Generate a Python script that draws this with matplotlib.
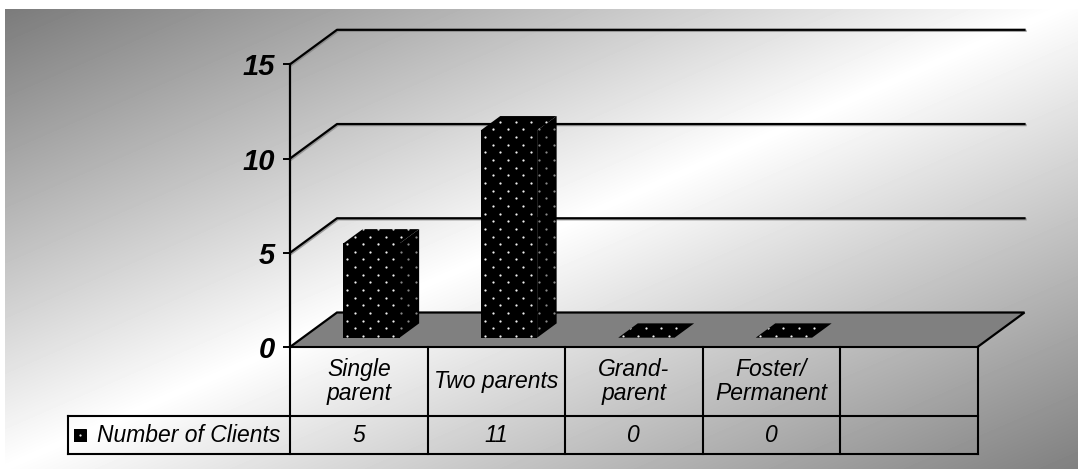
import numpy as np
import matplotlib.pyplot as plt
from matplotlib.patches import Polygon
import matplotlib.patheffects as pe

# data
categories = ['Single\nparent', 'Two parents', 'Grand-\nparent', 'Foster/\nPermanent', '']
clients = [5, 11, 0, 0]
series_name = 'Number of Clients'
yticks = [0, 5, 10, 15]

plt.rcParams['font.family'] = ['Liberation Sans', 'DejaVu Sans']

W, H, DPI = 1078, 469, 100
fig = plt.figure(figsize=(W / DPI, H / DPI), dpi=DPI)

# backdrop: dark top-left and bottom-right corners, light along the other diagonal
yy, xx = np.mgrid[0:H, 0:W]
t = (xx / W + yy / H) / 2
dark = np.where(t < 0.5, 0.47, 0.50)
shade = dark + (1.0 - dark) * (1 - np.abs(2 * t - 1))
shade[:9, :] = 1.0
shade[:, :5] = 1.0
bg = fig.add_axes([0, 0, 1, 1], zorder=-10)
bg.imshow(shade, cmap='gray', vmin=0, vmax=1, extent=(0, W, H, 0),
          aspect='auto', interpolation='bilinear')
bg.axis('off')

# front plane of the plot (pixel rows counted from the top)
x_left, x_right = 290, 977.5
y_zero, y_top = 347, 64.3
ax = fig.add_axes([x_left / W, 1 - y_zero / H,
                   (x_right - x_left) / W, (y_zero - y_top) / H])
ncat = len(categories)
ax.set_xlim(0, ncat)
ax.set_ylim(0, 15)
ax.patch.set_alpha(0)

ppx = (x_right - x_left) / ncat
ppy = (y_zero - y_top) / 15
DX, DY = 47 / ppx, 34.5 / ppy      # depth of the 3-d box in data units

for s in ['top', 'right', 'bottom']:
    ax.spines[s].set_visible(False)
ax.spines['left'].set_linewidth(1.6)
ax.set_xticks([])
ax.set_yticks(yticks)
ax.set_yticklabels([str(v) for v in yticks], fontsize=21,
                   fontweight='bold', fontstyle='italic')
ax.tick_params(axis='y', length=5, width=1.4, pad=6)

shadow = [pe.SimpleLineShadow(offset=(0.8, -0.8), shadow_color='gray', alpha=0.7),
          pe.Normal()]


def dotted(pts, dot_color, z=3):
    """Black face with a staggered grid of small light dots."""
    poly = Polygon(pts, closed=True, fc='black', ec='none', clip_on=False, zorder=z)
    ax.add_patch(poly)
    disp = ax.transData.transform(pts)
    (xmin, ymin), (xmax, ymax) = disp.min(0), disp.max(0)
    step = 7.65
    gx = np.arange(np.floor(xmin / step) - 1, np.ceil(xmax / step) + 2)
    gy = np.arange(np.floor(ymin / step) - 1, np.ceil(ymax / step) + 2)
    X, Y = np.meshgrid(gx, gy)
    keep = (X + Y) % 2 == 0
    pix = np.column_stack([X[keep] * step + 3, Y[keep] * step + 3])
    d = ax.transData.inverted().transform(pix)
    sc = ax.scatter(d[:, 0], d[:, 1], s=2.6, c=dot_color, marker='o',
                    linewidths=0, zorder=z + 0.1)
    sc.set_clip_on(True)
    sc.set_clip_path(poly)
    sc.set_clip_box(None)


# floor
ax.add_patch(Polygon([(0, 0), (ncat, 0), (ncat + DX, DY), (DX, DY)],
                     closed=True, fc='#808080', ec='none', clip_on=False, zorder=1))
ax.plot([0, DX, ncat + DX, ncat], [0, DY, DY, 0], color='black', lw=1.6,
        clip_on=False, zorder=2, solid_joinstyle='miter')

# side and back wall gridlines
for v in yticks[1:]:
    ax.plot([0, DX, ncat + DX], [v, v + DY, v + DY], color='black', lw=1.6,
            clip_on=False, zorder=2, path_effects=shadow)

# 3-d columns
bw = 0.41
f0, f1 = 0.27, 0.685
for i, v in enumerate(clients):
    x0 = i + 0.5 - bw / 2
    x1 = x0 + bw
    a0, b0 = f0 * DX, f0 * DY
    a1, b1 = f1 * DX, f1 * DY
    front = [(x0 + a0, b0), (x1 + a0, b0), (x1 + a0, v + b0), (x0 + a0, v + b0)]
    side = [(x1 + a0, b0), (x1 + a1, b1), (x1 + a1, v + b1), (x1 + a0, v + b0)]
    top = [(x0 + a0, v + b0), (x1 + a0, v + b0), (x1 + a1, v + b1), (x0 + a1, v + b1)]
    if v > 0:
        dotted(front, '#f0f0f0')
        dotted(side, '#8a8a8a')
    dotted(top, '#f0f0f0')

# data table under the plot
hdr_h = 69 / ppy
row_h = 38 / ppy
y1 = -hdr_h
y2 = -hdr_h - row_h
lab_x = -(x_left - 68) / ppx
tkw = dict(color='black', lw=1.5, clip_on=False, zorder=4)
ax.plot([0, ncat], [0, 0], **tkw)
ax.plot([lab_x, ncat], [y1, y1], **tkw)
ax.plot([lab_x, ncat], [y2, y2], **tkw)
ax.plot([lab_x, lab_x], [y1, y2], **tkw)
for i in range(ncat + 1):
    ax.plot([i, i], [0, y2], **tkw)

txt = dict(fontsize=16.5, fontstyle='italic', ha='center', va='center',
           clip_on=False, linespacing=1.1)
for i, name in enumerate(categories):
    ax.text(i + 0.5, y1 / 2, name, **txt)
    val = str(clients[i]) if i < len(clients) else ''
    ax.text(i + 0.5, (y1 + y2) / 2, val, **txt)

# series key and name
key_w = 13 / ppx
key_h = 13 / ppy
ymid = (y1 + y2) / 2
kx = lab_x + 6 / ppx
key = [(kx, ymid - key_h / 2), (kx + key_w, ymid - key_h / 2),
       (kx + key_w, ymid + key_h / 2), (kx, ymid + key_h / 2)]
dotted(key, '#f0f0f0', z=4)
ax.text(lab_x + 29 / ppx, ymid, series_name, fontsize=16.5,
        fontstyle='italic', ha='left', va='center', clip_on=False)

fig.savefig('out.png', dpi=DPI)
